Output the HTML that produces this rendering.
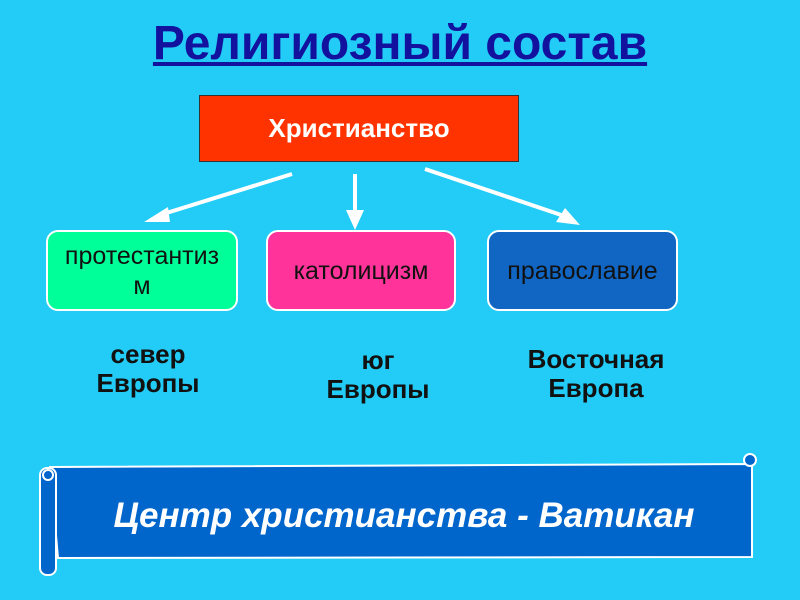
<!DOCTYPE html>
<html><head><meta charset="utf-8"><style>
body{margin:0;width:800px;height:600px;background:#22ccf6;position:relative;overflow:hidden;font-family:"Liberation Sans",sans-serif}
.t{position:absolute;left:0;width:800px;text-align:center;top:16px;font-size:48px;font-weight:bold;color:#12129e;text-decoration:underline}
.b{position:absolute;box-sizing:border-box;display:flex;align-items:center;justify-content:center;text-align:center}
.r{border:2px solid #fff;border-radius:12px;font-size:25px;color:#111;line-height:30px}
.lab{position:absolute;text-align:center;font-weight:bold;font-size:26px;color:#111;line-height:29px}
</style></head><body>
<div class="t">Религиозный состав</div>
<div class="b" style="left:199px;top:95px;width:320px;height:67px;background:#ff3300;border:1px solid #333;color:#fff;font-weight:bold;font-size:26px">Христианство</div>
<svg style="position:absolute;left:0;top:0" width="800" height="600">
<g stroke="#fff" stroke-width="4" fill="none">
<line x1="292" y1="174" x2="160" y2="215"/>
<line x1="355" y1="174" x2="355" y2="218"/>
<line x1="425" y1="169" x2="570" y2="218"/>
</g>
<g fill="#fff">
<polygon points="144,222 168,207 170,222"/>
<polygon points="346,210 364,210 355,230"/>
<polygon points="580,225 556,222 565,208"/>
</g>
</svg>
<div class="b r" style="left:46px;top:230px;width:192px;height:81px;background:#00ff99">протестантиз<br>м</div>
<div class="b r" style="left:266px;top:230px;width:190px;height:81px;background:#ff3399">католицизм</div>
<div class="b r" style="left:487px;top:230px;width:191px;height:81px;background:#1166c4">православие</div>
<div class="lab" style="left:68px;top:340px;width:160px">север<br>Европы</div>
<div class="lab" style="left:298px;top:346px;width:160px">юг<br>Европы</div>
<div class="lab" style="left:506px;top:345px;width:180px">Восточная<br>Европа</div>
<svg style="position:absolute;left:0;top:0" width="800" height="600">
<path d="M50,467 L752,464 L752,557 L58,558 Z" fill="#0066cc" stroke="#fff" stroke-width="2"/>
<rect x="40" y="468" width="16" height="107" rx="7" fill="#0066cc" stroke="#fff" stroke-width="2"/>
<circle cx="48" cy="475" r="5" fill="#0066cc" stroke="#fff" stroke-width="2"/>
<circle cx="750" cy="460" r="6" fill="#0066cc" stroke="#fff" stroke-width="2"/>
<text x="404" y="527" text-anchor="middle" font-family="Liberation Sans" font-size="35" font-weight="bold" font-style="italic" fill="#fff">Центр христианства - Ватикан</text>
</svg>
</body></html>
